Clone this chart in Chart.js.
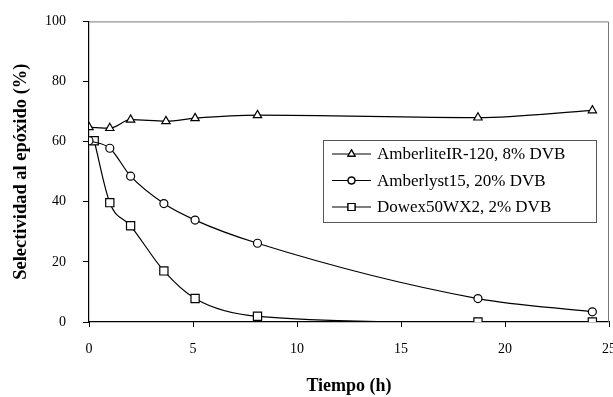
<!DOCTYPE html>
<html>
<head>
<meta charset="utf-8">
<script src="https://cdn.jsdelivr.net/npm/chart.js@4/dist/chart.umd.min.js"></script>
<style>
  html, body { margin: 0; padding: 0; background: #fff; overflow: hidden; }
  #wrap { width: 613px; height: 397px; overflow: hidden; }
  #selChart { display: block; margin-top: -4px; }
</style>
</head>
<body>
<div id="wrap"><canvas id="selChart" width="630" height="401"></canvas></div>
<script>
// data
const amberliteX = [0, 1.0, 2.0, 3.7, 5.1, 8.1, 18.7, 24.2];
const amberliteY = [64.8, 64.5, 67.3, 66.8, 67.8, 68.8, 68.0, 70.4];

const amberlystX = [0, 1.0, 2.0, 3.6, 5.1, 8.1, 18.7, 24.2];
const amberlystY = [60.3, 57.8, 48.5, 39.4, 33.9, 26.2, 7.8, 3.4];

const dowexX = [0.25, 1.0, 2.0, 3.6, 5.1, 8.1, 18.7, 24.2];
const dowexY = [60.3, 39.7, 32.0, 17.0, 7.8, 1.9, 0, 0];

const seriesLabels = ['AmberliteIR-120, 8% DVB', 'Amberlyst15, 20% DVB', 'Dowex50WX2, 2% DVB'];
const xTicks = [0, 5, 10, 15, 20, 25];
const yTicks = [0, 20, 40, 60, 80, 100];

const toPts = (xs, ys) => xs.map((x, i) => ({ x: x, y: ys[i] }));

const serif = '"Liberation Serif", "Times New Roman", serif';

function series(label, pts, style, radius) {
    return {
        label: label,
        data: pts,
        borderColor: '#000',
        borderWidth: 1.2,
        backgroundColor: '#fff',
        pointStyle: style,
        pointRadius: radius,
        pointBorderWidth: 1.2,
        pointBorderColor: '#000',
        pointBackgroundColor: '#fff',
        cubicInterpolationMode: 'monotone',
        fill: false
    };
}

// gray frame on top/right of plot area
const framePlugin = {
    id: 'frame',
    beforeDatasetsDraw(chart) {
        const a = chart.chartArea, ctx = chart.ctx;
        ctx.save();
        ctx.strokeStyle = '#777';
        ctx.lineWidth = 1;
        ctx.beginPath();
        ctx.moveTo(a.left, a.top + 0.5);
        ctx.lineTo(a.right - 0.5, a.top + 0.5);
        ctx.lineTo(a.right - 0.5, a.bottom);
        ctx.stroke();
        ctx.restore();
    }
};

// boxed legend inside the plot (canvas is shifted up 4px)
const boxLegend = {
    id: 'boxLegend',
    afterDraw(chart) {
        const ctx = chart.ctx;
        const bx = 323, by = 144, bw = 273, bh = 82;
        ctx.save();
        ctx.fillStyle = '#fff';
        ctx.fillRect(bx, by, bw, bh);
        ctx.strokeStyle = '#555';
        ctx.lineWidth = 1;
        ctx.strokeRect(bx + 0.5, by + 0.5, bw, bh);
        ctx.font = '17px ' + serif;
        ctx.textBaseline = 'middle';
        ctx.fillStyle = '#000';
        chart.data.datasets.forEach((ds, i) => {
            const y = by + 14 + i * 26.5;
            ctx.strokeStyle = '#000';
            ctx.lineWidth = 1.2;
            ctx.beginPath();
            ctx.moveTo(332, y);
            ctx.lineTo(371, y);
            ctx.stroke();
            Chart.helpers.drawPoint(ctx, {
                pointStyle: ds.pointStyle,
                radius: ds.pointRadius * 0.85,
                borderWidth: 1.2
            }, 351.5, y);
            ctx.fillStyle = '#fff';
            ctx.fill();
            ctx.stroke();
            ctx.fillStyle = '#000';
            ctx.fillText(ds.label, 377, y + 1);
        });
        ctx.restore();
    }
};

new Chart(document.getElementById('selChart'), {
    type: 'line',
    data: {
        datasets: [
            series(seriesLabels[0], toPts(amberliteX, amberliteY), 'triangle', 4.8),
            series(seriesLabels[1], toPts(amberlystX, amberlystY), 'circle', 4),
            series(seriesLabels[2], toPts(dowexX, dowexY), 'rect', 5.8)
        ]
    },
    options: {
        responsive: false,
        animation: false,
        layout: { padding: { left: 0, right: 0, top: 17, bottom: 0 } },
        plugins: {
            legend: { display: false },
            tooltip: { enabled: false }
        },
        scales: {
            x: {
                type: 'linear',
                min: 0,
                max: 25,
                afterBuildTicks: s => { s.ticks = xTicks.map(v => ({ value: v })); },
                afterFit: s => { s.height = 75; },
                border: { color: '#000', width: 1.2 },
                grid: { display: true, drawOnChartArea: false, drawTicks: true, tickLength: 5, color: '#000' },
                ticks: { color: '#000', font: { family: serif, size: 14 }, padding: 14 },
                title: {
                    display: true,
                    text: 'Tiempo (h)',
                    color: '#000',
                    font: { family: serif, size: 18, weight: 'bold' },
                    padding: { top: 12, bottom: 0 }
                }
            },
            y: {
                type: 'linear',
                min: 0,
                max: 100,
                afterBuildTicks: s => { s.ticks = yTicks.map(v => ({ value: v })); },
                afterFit: s => { s.width = 89; },
                border: { color: '#000', width: 1.2 },
                grid: { display: true, drawOnChartArea: false, drawTicks: true, tickLength: 6, color: '#000' },
                ticks: { color: '#000', font: { family: serif, size: 14 }, padding: 17 },
                title: {
                    display: true,
                    text: 'Selectividad al epóxido (%)',
                    color: '#000',
                    font: { family: serif, size: 18.5, weight: 'bold' },
                    padding: { top: 10, bottom: 10 }
                }
            }
        }
    },
    plugins: [framePlugin, boxLegend]
});
</script>
</body>
</html>
